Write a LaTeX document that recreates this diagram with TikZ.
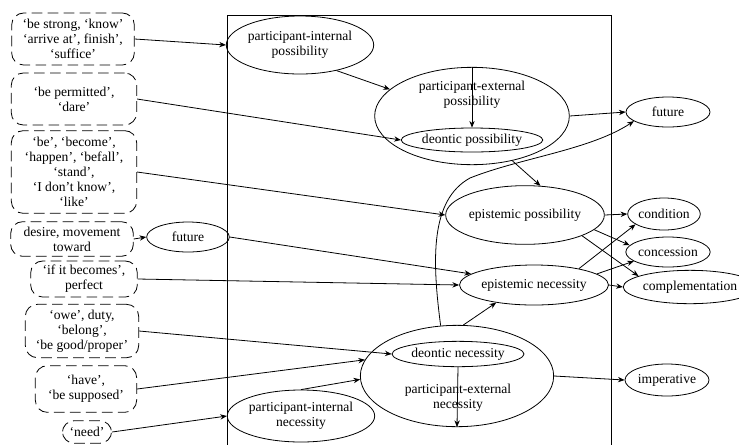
\documentclass[tikz,border=0pt]{standalone}
\usepackage{fontspec}
\setmainfont{Liberation Serif}
\newfontfamily\tnr[Ligatures=TeX]{Liberation Serif}
\usetikzlibrary{shapes.geometric,arrows.meta}
\begin{document}
\begin{tikzpicture}[x=0.75pt,y=-0.75pt,
  every node/.style={font=\tnr\fontsize{10.2}{11.2}\selectfont, align=center},
  dbox/.style={draw, dash pattern=on 8pt off 4pt, rounded corners=9pt, inner sep=0pt, line width=0.6pt},
  ell/.style={draw, ellipse, inner sep=0pt, line width=0.6pt},
  arr/.style={-{Stealth[length=5pt,width=4pt]}, line width=0.6pt},
  frame/.style={line width=0.6pt}]
\useasboundingbox (0,0) rectangle (739,444);
\clip (0,0) rectangle (739,444);
\fill[white] (0,0) rectangle (739,444);
% frame
\draw[frame] (227,450) -- (227,15) -- (611,15) -- (611,450);
% left boxes
\node[dbox, minimum width=92pt, minimum height=39pt] (b1) at (73,39) {‘be strong, ‘know’\\‘arrive at’, finish’,\\‘suffice’};
\node[dbox, minimum width=94pt, minimum height=39pt] (b2) at (74,99) {‘be permitted’,\\‘dare’};
\node[dbox, minimum width=94pt, minimum height=62pt] (b3) at (74,172) {‘be’, ‘become’,\\‘happen’, ‘befall’,\\‘stand’,\\‘I don’t know’,\\‘like’};
\node[dbox, minimum width=92pt, minimum height=26pt] (b4) at (72,239) {desire, movement\\toward};
\node[dbox, minimum width=80pt, minimum height=27pt] (b5) at (84,279) {‘if it becomes’,\\perfect};
\node[dbox, minimum width=85pt, minimum height=40pt] (b6) at (82,331) {‘owe’, duty,\\‘belong’,\\‘be good/proper’};
\node[dbox, minimum width=76pt, minimum height=35pt] (b7) at (86,389) {‘have’,\\‘be supposed’};
\node[dbox, minimum width=37pt, minimum height=17pt] (b8) at (87,432) {‘need’};
% ellipses
\node[ell, minimum width=62pt, minimum height=22.5pt] (futL) at (188,237) {future};
\node[ell, minimum width=105pt, minimum height=43.5pt] (piP) at (300,45) {participant-internal\\possibility};
\node[ell, minimum width=146pt, minimum height=73pt] (peP) at (472,116) {};
\node at (472,95) {participant-external\\possibility};
\node[ell, minimum width=95pt, minimum height=18pt] (dP) at (472,140) {deontic possibility};
\node[ell, minimum width=109pt, minimum height=44pt] (epP) at (525,215) {epistemic possibility};
\node[ell, minimum width=96pt, minimum height=30pt] (epN) at (534,285) {epistemic necessity};
\node[ell, minimum width=145pt, minimum height=76pt] (peN) at (457,376) {};
\node at (458,398) {participant-external\\necessity};
\node[ell, minimum width=97pt, minimum height=19pt] (dN) at (458,354) {deontic necessity};
\node[ell, minimum width=99pt, minimum height=39pt] (piN) at (301,416) {participant-internal\\necessity};
\node[ell, minimum width=63pt, minimum height=22.5pt] (futR) at (668,112) {future};
\node[ell, minimum width=54pt, minimum height=24pt] (cond) at (664,214) {condition};
\node[ell, minimum width=62pt, minimum height=22.5pt] (conc) at (668,252) {concession};
\node[ell, minimum width=94pt, minimum height=25pt] (compl) at (690,287) {complementation};
\node[ell, minimum width=63pt, minimum height=24pt] (imp) at (667,380) {imperative};
% connectors from left boxes
\draw[arr] (b1.east) -- (piP.west);
\draw[arr] (b2.east) -- (dP.west);
\draw[arr] (b3.east) -- (epP.west);
\draw[arr] (b4.east) -- (futL.west);
\draw[arr] (futL.east) -- (epN.170);
\draw[arr] (b5.east) -- (epN.west);
\draw[arr] (b6.east) -- (dN.west);
\draw[arr] (b7.east) -- (peN.170);
\draw[arr] (piN.north) -- (peN.182);
\draw[arr] (b8.east) -- (piN.west);
% inner connectors
\draw[arr] (piP.-35) -- (peP.162);
\draw[arr] (peP.north) -- (dP.north);
\draw[arr] (peP.east) -- (futR.west);
\draw[arr] (peP.-48) -- (epP.62);
\draw[arr] (peN.108) .. controls (432,260) and (430,200) .. (470,178)
   .. controls (520,158) and (590,150) .. (futR.195);
\draw[arr] (peN.83) -- (epN.-155);
\draw[arr] (dN.south) -- (peN.south);
\draw[arr] (peN.east) -- (imp.west);
\draw[arr] (epP.east) -- (cond.west);
\draw[arr] (epP.-12) -- (conc.170);
\draw[arr] (epP.-20) -- (compl.168);
\draw[arr] (epN.20) -- (cond.200);
\draw[arr] (epN.10) -- (conc.195);
\draw[arr] (epN.east) -- (compl.west);
\end{tikzpicture}
\end{document}
